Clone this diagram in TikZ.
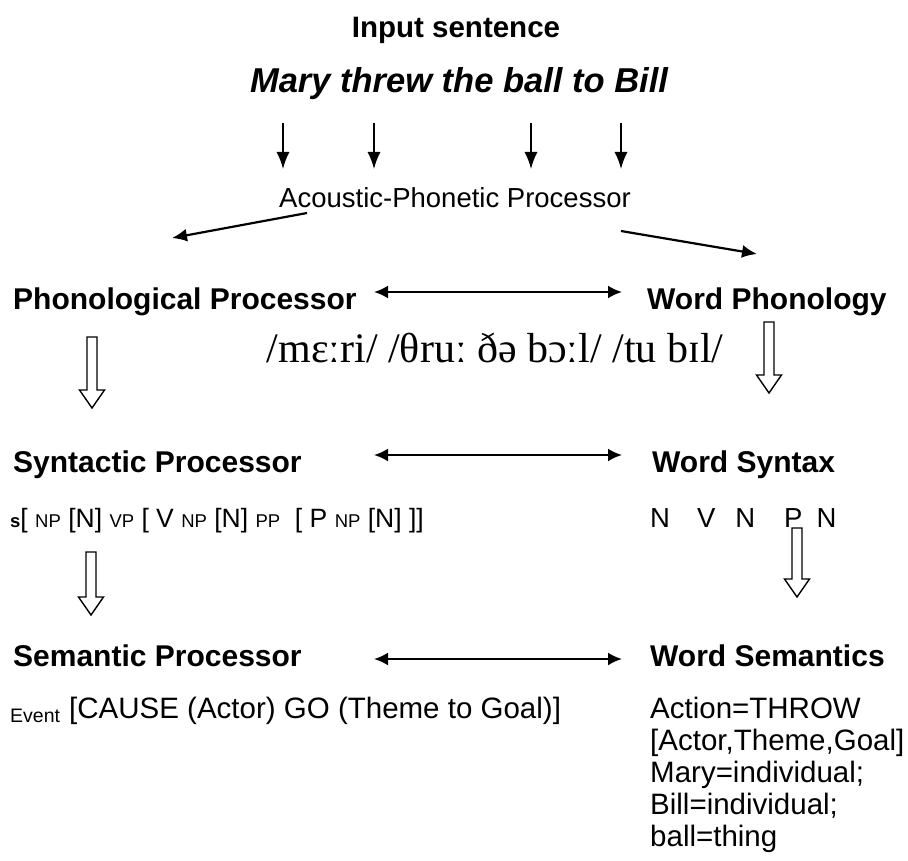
\documentclass[tikz,border=0pt]{standalone}
\usepackage{fontspec}
\setmainfont{Liberation Sans}
\newfontfamily\ipafont{Liberation Serif}
\usetikzlibrary{arrows.meta}
\newcommand\sm{\fontsize{18.5}{18.5}\selectfont}
\newcommand\hollowarrow[3]{%
  \draw[hollow] (#1-5,#2) -- (#1+5,#2) -- (#1+5,#3-18) -- (#1+12.5,#3-18)
    -- (#1,#3) -- (#1-12.5,#3-18) -- (#1-5,#3-18) -- cycle;}
\tikzset{
  txt/.style={anchor=base west, inner sep=0pt, font=\fontsize{29.5}{32}\selectfont},
  head/.style={txt, font=\bfseries\fontsize{30}{32}\selectfont},
  inarrow/.style={line width=1.5pt, -{Latex[length=17pt,width=13pt]}},
  dblarrow/.style={line width=2.2pt, {Latex[length=14pt,width=13pt]}-{Latex[length=14pt,width=13pt]}},
  diagarrow/.style={line width=2.2pt, -{Latex[length=15pt,width=13pt]}},
  hollow/.style={line width=1.4pt, fill=white, line join=miter}
}
\begin{document}
\begin{tikzpicture}[x=1pt,y=-1pt]
\useasboundingbox (0,0) rectangle (908,861);

% title lines
\node[anchor=base, inner sep=0pt, font=\bfseries\fontsize{29.5}{32}\selectfont] (input) at (456,38) {Input sentence};
\node[anchor=base, inner sep=0pt, font=\bfseries\itshape\fontsize{34.5}{36}\selectfont] (sent) at (459,93) {Mary threw the ball to Bill};
\node[anchor=base, inner sep=0pt, font=\fontsize{27.5}{30}\selectfont] (ap) at (455,208) {Acoustic-Phonetic Processor};

% input arrows
\foreach \x [count=\i] in {283,374,531,621}{
  \coordinate (s\i) at (\x,123);
  \coordinate (e\i) at (\x,169);
  \draw[inarrow] (s\i) -- (e\i);
}

% diagonal arrows
\coordinate (dl1) at (307,213);
\coordinate (dl2) at (172,238);
\coordinate (dr1) at (621,231);
\coordinate (dr2) at (757,254);
\draw[diagarrow] (dl1) -- (dl2);
\draw[diagarrow] (dr1) -- (dr2);

% headings
\node[head] (phon) at (13,309) {Phonological Processor};
\node[head] (wphon) at (647,309) {Word Phonology};
\node[head] (syn) at (13,472) {Syntactic Processor};
\node[head] (wsyn) at (652,472) {Word Syntax};
\node[head] (sem) at (13,666) {Semantic Processor};
\node[head] (wsem) at (650,666) {Word Semantics};

% double arrows
\coordinate (p1) at (374,292); \coordinate (p2) at (622,292);
\coordinate (y1) at (374,455); \coordinate (y2) at (622,455);
\coordinate (m1) at (374,659); \coordinate (m2) at (622,659);
\draw[dblarrow] (p1) -- (p2);
\draw[dblarrow] (y1) -- (y2);
\draw[dblarrow] (m1) -- (m2);

% phonetic transcription
\node[anchor=base, inner sep=0pt, font=\ipafont\fontsize{42}{44}\selectfont] (ipa) at (495,362) {/mɛːri/ /θruː ðə bɔːl/ /tu bɪl/};

% syntax line
\node[txt, font=\fontsize{26.5}{30}\selectfont] (synline) at (10,527)
  {{\sm\bfseries s}[ {\sm NP} [N] {\sm VP} [ V {\sm NP} [N] {\sm PP}\ \ [ P {\sm NP} [N] ]]};
\node[txt, font=\fontsize{27.5}{30}\selectfont] (cats) at (650,527)
  {N\hspace{27pt}V\hspace{20pt}N\hspace{29pt}P\hspace{14pt}N};

% semantic lines
\node[txt] (event) at (10,722) {\fontsize{19.5}{20}\selectfont Event};
\node[txt] (cause) at (69,718) {[CAUSE (Actor) GO (Theme to Goal)]};
\node[txt] (w1) at (650,718) {Action=THROW};
\node[txt] (w2) at (650,750) {[Actor,Theme,Goal]};
\node[txt] (w3) at (650,782) {Mary=individual;};
\node[txt] (w4) at (650,814) {Bill=individual;};
\node[txt] (w5) at (650,846) {ball=thing};

% hollow arrows
\hollowarrow{92}{337}{408}
\hollowarrow{769}{322}{393}
\hollowarrow{91}{552}{615}
\hollowarrow{797}{528}{597}
\end{tikzpicture}
\end{document}
